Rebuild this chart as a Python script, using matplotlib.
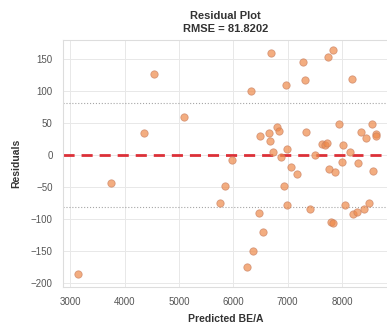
import matplotlib
matplotlib.use('Agg')
import matplotlib.pyplot as plt
import seaborn as sns
import numpy as np

sns.set_style('whitegrid')
plt.rcParams['font.family'] = ['Liberation Sans', 'DejaVu Sans']

# predicted values and residuals
predicted = [3142, 3744, 4365, 4537, 5103, 5749, 5854, 5970, 6260, 6321,
             6360, 6480, 6500, 6542, 6659, 6672, 6690, 6740, 6810, 6840,
             6881, 6940, 6979, 6983, 6985, 7059, 7175, 7286, 7317, 7330,
             7410, 7500, 7624, 7690, 7716, 7736, 7760, 7790, 7834, 7840,
             7880, 7950, 8000, 8013, 8064, 8150, 8179, 8209, 8271, 8290,
             8345, 8406, 8443, 8490, 8550, 8580, 8627, 8635]
residuals = [-187, -44, 34, 127, 60, -75, -49, -8, -176, 100,
             -150, -91, 30, -121, 34, 21, 160, 4, 43, 37,
             -3, -49, 109, -78, 9, -19, -30, 146, 117, 36,
             -85, 0, 17, 15, 19, 153, -22, -105, 164, -107,
             -27, 48, -12, 15, -78, 5, 119, -93, -89, -13,
             36, -85, 27, -75, 49, -25, 32, 30]
rmse = 81.8202

fig = plt.figure(figsize=(3.87, 3.24), dpi=100)
ax = fig.add_axes([0.163, 0.114, 0.84, 0.763])

ax.scatter(predicted, residuals, s=28, facecolor='#ee8a4a', edgecolor='#c98060',
           linewidth=0.6, alpha=0.7, zorder=3)
ax.axhline(0, color='#dc3038', linestyle='--', linewidth=2, dashes=(4, 2.5), zorder=2)
ax.axhline(rmse, color='gray', linestyle=':', linewidth=0.8, alpha=0.7)
ax.axhline(-rmse, color='gray', linestyle=':', linewidth=0.8, alpha=0.7)

ax.set_xlim(2870, 8850)
ax.set_ylim(-207, 180)
ax.set_xticks([3000, 4000, 5000, 6000, 7000, 8000])
ax.set_yticks([-200, -150, -100, -50, 0, 50, 100, 150])
ax.tick_params(labelsize=7, colors='#555555', pad=4)
ax.grid(color='#e8e8e8', linewidth=0.7)
for s in ax.spines.values():
    s.set_color('#dddddd')

ax.set_xlabel('Predicted BE/A', fontsize=7.5, fontweight='bold', color='#333333', labelpad=5)
ax.set_ylabel('Residuals', fontsize=7.5, fontweight='bold', color='#333333', labelpad=7)
ax.set_title('Residual Plot\nRMSE = 81.8202', fontsize=8, fontweight='bold',
             color='#333333', pad=6, linespacing=1.35)

fig.savefig('out.png', dpi=100)
